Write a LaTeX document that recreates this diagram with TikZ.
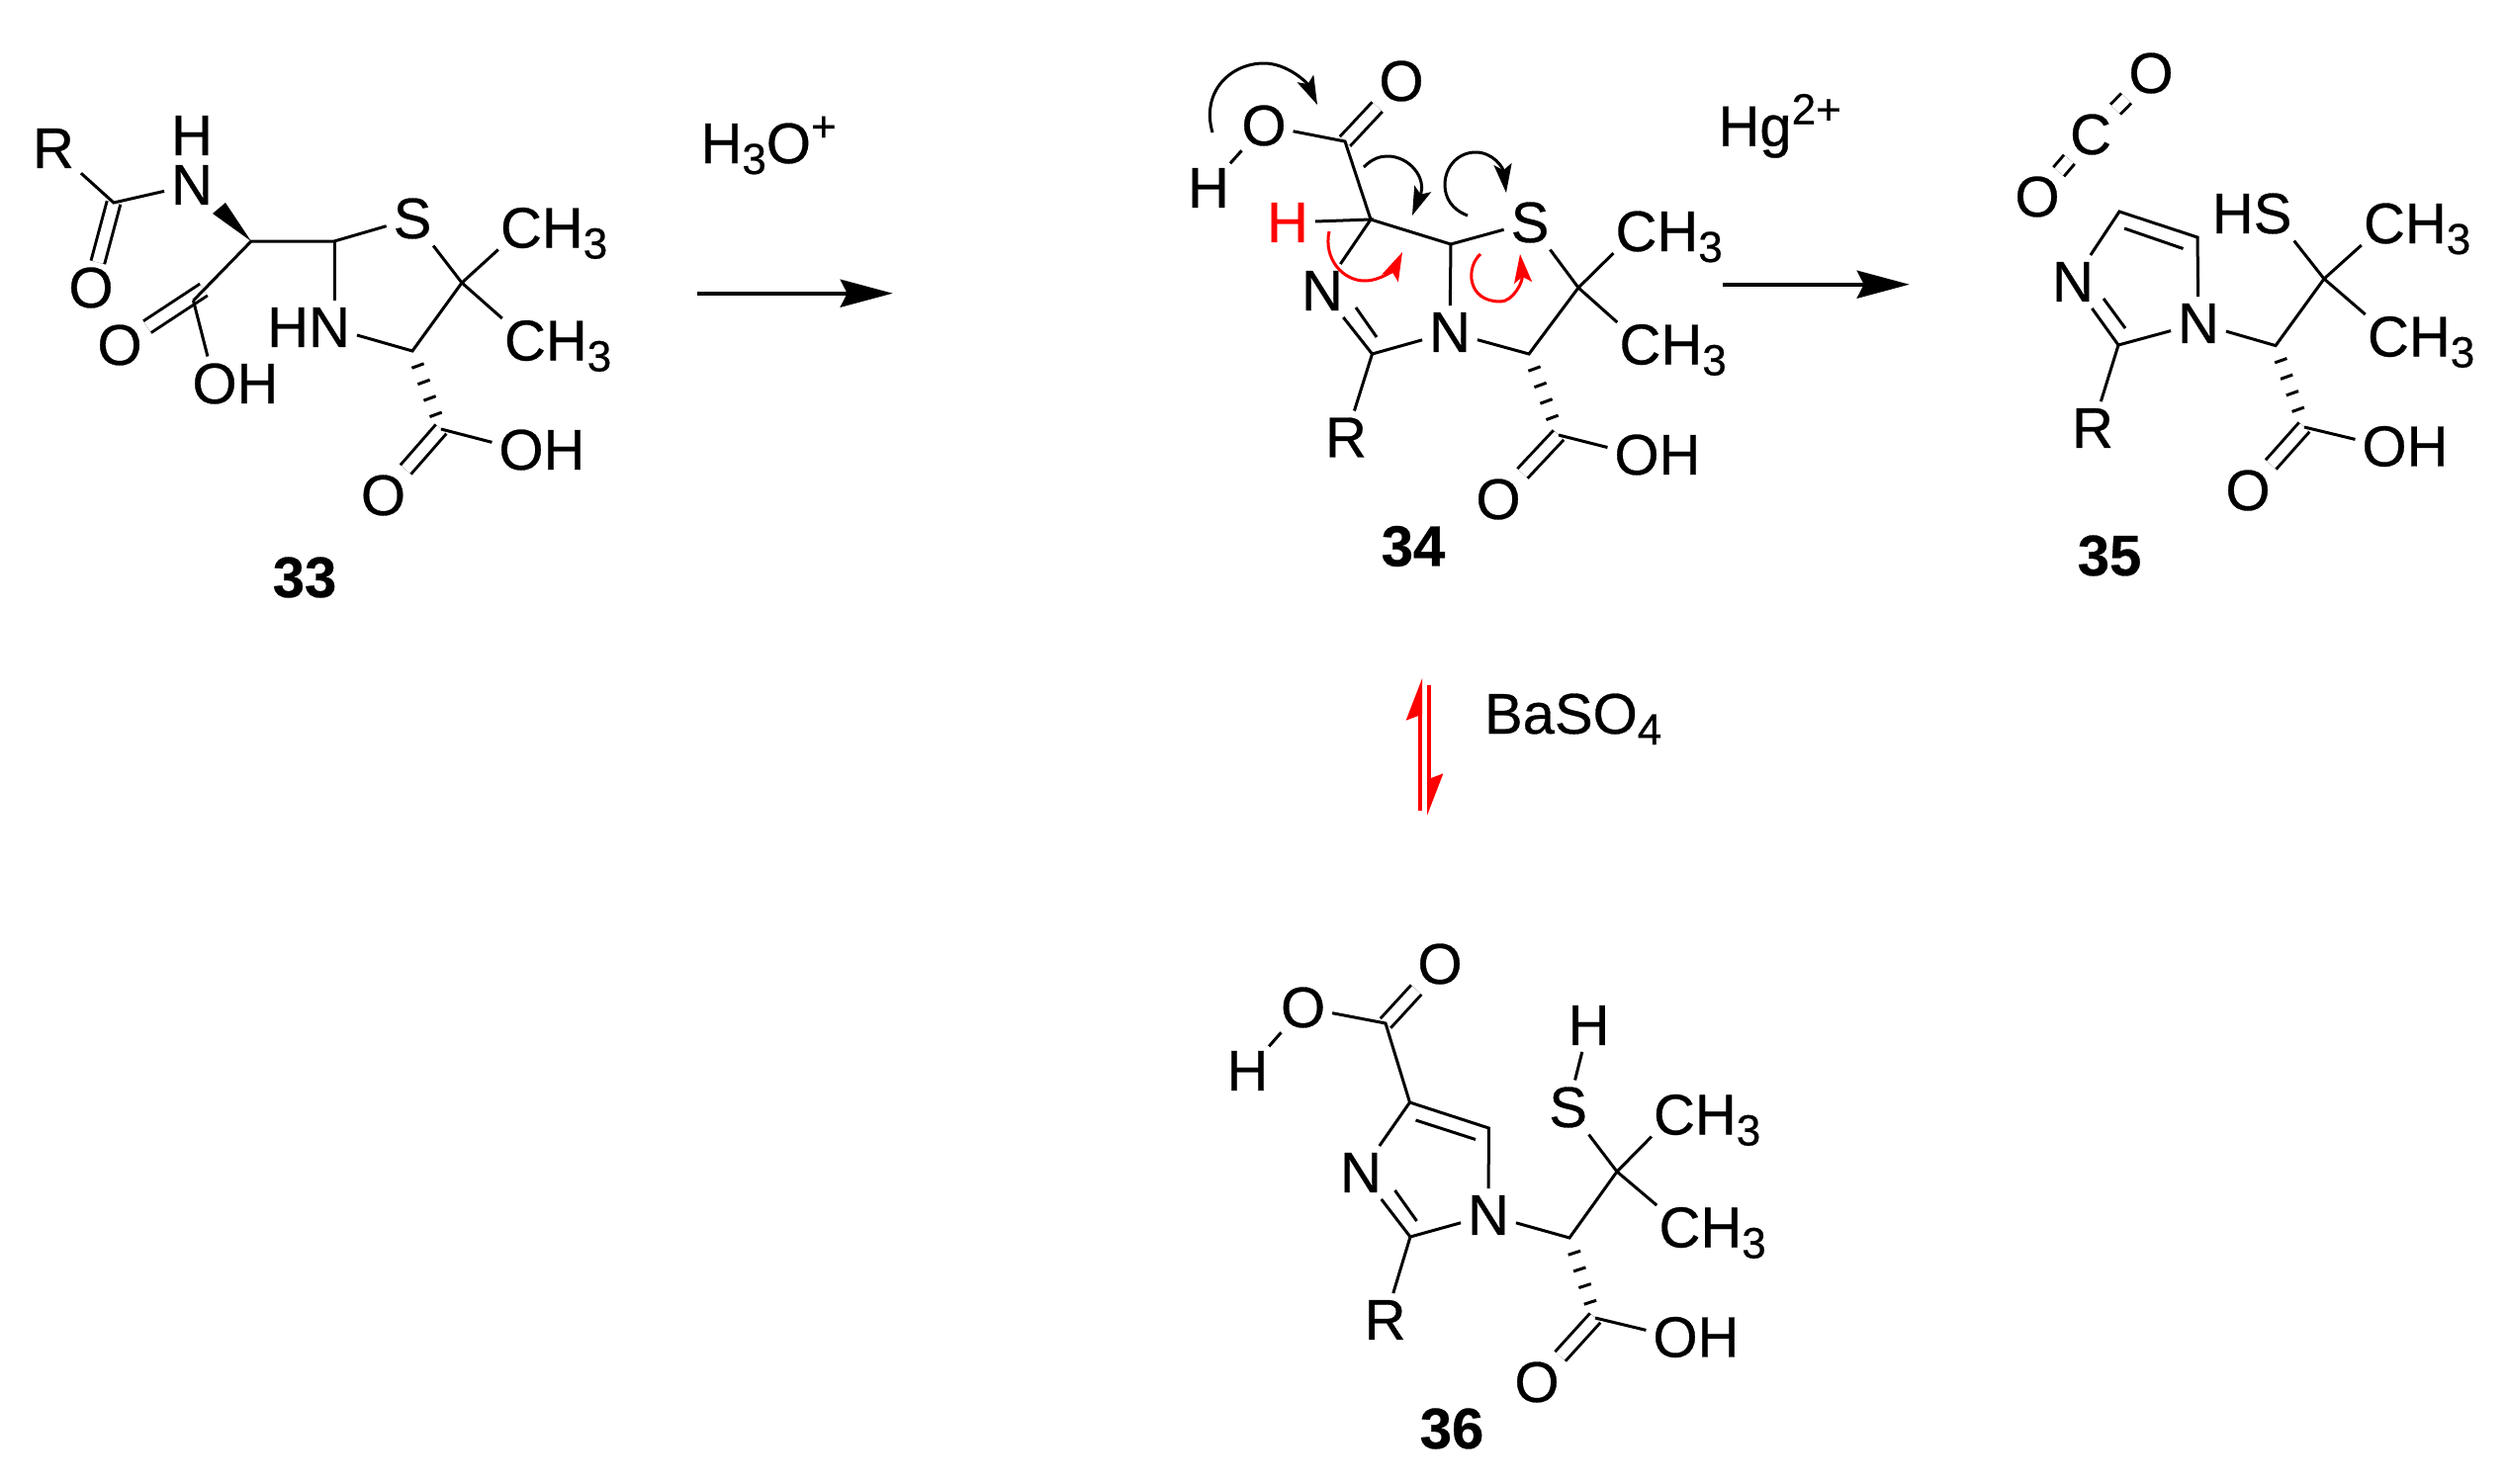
\documentclass[tikz,border=0pt]{standalone}
\usepackage{fontspec}
\setmainfont[RawFeature={embolden=0.5}]{Liberation Sans}
\usetikzlibrary{positioning,arrows.meta}
\newcommand{\chemfont}{\fontsize{58pt}{60pt}\selectfont}
\newcommand{\sbs}[1]{\raisebox{-11pt}{\fontsize{44pt}{44pt}\selectfont #1}}
\newcommand{\sps}[1]{\raisebox{22pt}{\fontsize{44pt}{44pt}\selectfont #1}}
\tikzset{
  atom/.style={font=\chemfont, inner sep=7pt, outer sep=0pt},
  lab/.style={font=\chemfont, inner sep=0pt, outer sep=0pt, anchor=base west},
  cpd/.style={font=\chemfont\bfseries, inner sep=0pt, outer sep=0pt},
  dbl/.style={double, double distance=11pt, shorten >=-2pt},
  lng/.style={shorten <=-3pt, shorten >=-3pt},
  hashbond/.style={line width=13pt, dash pattern=on 3pt off 14.5pt, dash phase=3pt, shorten >=12pt},
  rxn/.style={line width=4pt, -{Stealth[length=53pt,width=28pt,inset=7pt]}},
  curly/.style={-{Stealth[length=29pt,width=18pt,inset=6pt]}},
  eqm/.style={red, line width=4pt, -{Stealth[left,length=37pt,width=28pt,inset=5pt]}}
}

\begin{document}
\begin{tikzpicture}[x=1pt, y=-1pt, line width=3pt]
  \useasboundingbox (0,0) rectangle (2536,1500);

  % compound 33
  \node[atom] (R33) at (54,150) {R};
  \node[atom, inner sep=0pt] (H33a) at (194,137) {H};
  \node[atom] (N33a) at (194,187) {N};
  \node[atom] (O33a) at (92,291) {O};
  \node[atom] (O33b) at (121,349) {O};
  \node[atom] (O33c) at (217,388) {O};
  \node[atom, base right=-14pt of O33c] (H33c) {H};
  \node[atom] (S33) at (417,221) {S};
  \node[atom] (N33b) at (333,331) {N};
  \node[atom, base left=-14pt of N33b] (H33b) {H};
  \node[lab] (Me33a) at (506,250.5) {CH\sbs{3}};
  \node[lab] (Me33b) at (510,364.5) {CH\sbs{3}};
  \node[atom] (O33d) at (387.5,501) {O};
  \node[atom] (O33e) at (527,455) {O};
  \node[atom, base right=-14pt of O33e] (H33e) {H};
  \node[cpd] (L33) at (308,584) {33};
  \coordinate (C33a) at (115,205);
  \coordinate (C33b) at (254,244);
  \coordinate (C33c) at (338,244);
  \coordinate (C33d) at (195.5,304);
  \coordinate (C33e) at (467,286);
  \coordinate (C33f) at (417,355);
  \coordinate (C33g) at (446,434);
  \coordinate (D33) at (206,293);
  \coordinate (W33a) at (228,205);
  \coordinate (W33b) at (215,216);
  \draw[dbl] (C33a) -- (O33a);
  \draw[dbl] (D33) -- (O33b);
  \draw[dbl] (C33g) -- (O33d);
  \draw (R33) -- (C33a) -- (N33a);
  \fill (C33b) -- (W33a) -- (W33b) -- cycle;
  \draw (C33d) -- (C33b) -- (C33c) -- (S33);
  \draw (C33d) -- (O33c);
  \draw (C33c) -- (N33b.north -| C33c);
  \draw (N33b) -- (C33f) -- (C33e) -- (S33);
  \draw[shorten >=3pt] (C33e) -- (Me33a.base west);
  \draw[shorten >=3pt] (C33e) -- (Me33b.north west);
  \draw[hashbond] (C33f) -- (C33g);
  \draw (C33g) -- (O33e);

  % compound 34
  \node[atom] (O34a) at (1417,82) {O};
  \node[atom] (O34b) at (1278,127) {O};
  \node[atom] (H34a) at (1222,190) {H};
  \node[atom, text=red] (H34b) at (1302,225) {H};
  \node[atom] (N34a) at (1337,294) {N};
  \node[atom] (N34b) at (1466,336) {N};
  \node[atom] (R34) at (1361,442.5) {R};
  \node[atom] (S34) at (1547,225) {S};
  \node[lab] (Me34a) at (1633.5,254) {CH\sbs{3}};
  \node[lab] (Me34b) at (1637.5,368.5) {CH\sbs{3}};
  \node[atom] (O34c) at (1515,505) {O};
  \node[atom] (O34d) at (1655,460) {O};
  \node[atom, base right=-14pt of O34d] (H34d) {H};
  \node[cpd] (L34) at (1429,552.5) {34};
  \coordinate (C34a) at (1360,143);
  \coordinate (C34b) at (1386,222);
  \coordinate (C34c) at (1467,247);
  \coordinate (C34d) at (1387.5,358);
  \coordinate (C34e) at (1596,291);
  \coordinate (C34f) at (1546,358);
  \coordinate (C34g) at (1576,440);
  \coordinate (I34a) at (1392,341);
  \coordinate (I34b) at (1371,311);
  \draw[dbl] (C34a) -- (O34a);
  \draw[dbl] (C34g) -- (O34c);
  \draw[lng] (H34a) -- (O34b);
  \draw (O34b) -- (C34a) -- (C34b) -- (C34c) -- (S34);
  \draw (H34b) -- (C34b) -- (N34a) -- (C34d) -- (N34b) -- (C34c);
  \draw (I34a) -- (I34b);
  \draw (C34d) -- (R34);
  \draw (N34b) -- (C34f) -- (C34e) -- (S34);
  \draw[shorten >=3pt] (C34e) -- (Me34a.base west);
  \draw[shorten >=3pt] (C34e) -- (Me34b.north west);
  \draw[hashbond] (C34f) -- (C34g);
  \draw (C34g) -- (O34d);

  % electron pushing on 34
  \coordinate (CvA) at (1226,134);
  \coordinate (CvB) at (1332,106);
  \coordinate (CvC) at (1379,169);
  \coordinate (CvD) at (1428,218);
  \coordinate (CvE) at (1484,218);
  \coordinate (CvF) at (1523,195);
  \coordinate (CvG) at (1344,234);
  \coordinate (CvH) at (1418,255);
  \coordinate (CvI) at (1497,257);
  \coordinate (CvJ) at (1537,257);
  \draw[curly] (CvA) .. controls (1214,92) and (1245,64) .. (1278,64) .. controls (1302,64) and (1322,84) .. (CvB);
  \draw[curly] (CvC) .. controls (1388,160) and (1396,158) .. (1403,158) .. controls (1425,158) and (1443,180) .. (CvD);
  \draw[curly] (CvE) .. controls (1468,212) and (1461,200) .. (1461,187) .. controls (1461,168) and (1475,154) .. (1492,154) .. controls (1510,154) and (1520,170) .. (CvF);
  \draw[curly, red] (CvG) .. controls (1338,262) and (1358,284) .. (1380,284) .. controls (1396,284) and (1410,272) .. (CvH);
  \draw[curly, red] (CvI) .. controls (1482,270) and (1483,305) .. (1517,305) .. controls (1530,305) and (1540,285) .. (CvJ);

  % compound 35
  \node[atom] (O35a) at (2175,74) {O};
  \node[atom] (C35a) at (2114,136) {C};
  \node[atom] (O35b) at (2060,199) {O};
  \node[atom] (N35a) at (2096,285) {N};
  \node[atom] (N35b) at (2223,327) {N};
  \node[atom] (R35) at (2116,433) {R};
  \node[atom] (S35) at (2298,216) {S};
  \node[atom, base left=-14pt of S35] (H35) {H};
  \node[lab] (Me35a) at (2390,246) {CH\sbs{3}};
  \node[lab] (Me35b) at (2394,360.5) {CH\sbs{3}};
  \node[atom] (O35c) at (2273,496) {O};
  \node[atom] (O35d) at (2411,451.5) {O};
  \node[atom, base right=-14pt of O35d] (H35d) {H};
  \node[cpd] (L35) at (2133,562) {35};
  \coordinate (C35b) at (2142,349);
  \coordinate (C35c) at (2143,214);
  \coordinate (C35d) at (2222,240);
  \coordinate (C35e) at (2301,349.6);
  \coordinate (C35f) at (2350,282);
  \coordinate (C35g) at (2330,432);
  \coordinate (I35a) at (2148,231);
  \coordinate (I35b) at (2207.5,251.5);
  \coordinate (I35c) at (2127,302);
  \coordinate (I35d) at (2149,332);
  \draw[dbl, lng] (C35a) -- (O35a);
  \draw[dbl, lng] (C35a) -- (O35b);
  \draw[dbl] (C35g) -- (O35c);
  \draw (N35a) -- (C35c) -- (C35d) -- (N35b) -- (C35b) -- (N35a);
  \draw (I35a) -- (I35b);
  \draw (I35c) -- (I35d);
  \draw (C35b) -- (R35);
  \draw (N35b) -- (C35e) -- (C35f) -- (S35);
  \draw[shorten >=3pt] (C35f) -- (Me35a.base west);
  \draw[shorten >=3pt] (C35f) -- (Me35b.north west);
  \draw[hashbond] (C35e) -- (C35g);
  \draw (C35g) -- (O35d);

  % compound 36
  \node[atom] (O36a) at (1456,975) {O};
  \node[atom] (O36b) at (1317.6,1019) {O};
  \node[atom] (H36a) at (1261.5,1083) {H};
  \node[atom] (N36a) at (1376,1186) {N};
  \node[atom] (N36b) at (1505,1229) {N};
  \node[atom] (R36) at (1400.6,1335) {R};
  \node[atom] (S36) at (1585.6,1120) {S};
  \node[atom] (H36b) at (1606.6,1037) {H};
  \node[lab] (Me36a) at (1672,1147.5) {CH\sbs{3}};
  \node[lab] (Me36b) at (1677.5,1261.5) {CH\sbs{3}};
  \node[atom] (O36c) at (1554,1398) {O};
  \node[atom] (O36d) at (1694,1352.5) {O};
  \node[atom, base right=-14pt of O36d] (H36d) {H};
  \node[cpd] (L36) at (1468,1445) {36};
  \coordinate (C36a) at (1401,1035);
  \coordinate (C36b) at (1425.5,1115);
  \coordinate (C36c) at (1505.4,1141);
  \coordinate (C36d) at (1426,1251);
  \coordinate (C36e) at (1587,1252);
  \coordinate (C36f) at (1635,1185);
  \coordinate (C36g) at (1613,1333);
  \coordinate (I36a) at (1431.5,1133);
  \coordinate (I36b) at (1492,1152.5);
  \coordinate (I36c) at (1410.5,1204);
  \coordinate (I36d) at (1432.6,1235);
  \draw[dbl] (C36a) -- (O36a);
  \draw[dbl] (C36g) -- (O36c);
  \draw[lng] (H36a) -- (O36b);
  \draw (O36b) -- (C36a) -- (C36b) -- (C36c) -- (N36b) -- (C36d) -- (N36a) -- (C36b);
  \draw (I36a) -- (I36b);
  \draw (I36c) -- (I36d);
  \draw (C36d) -- (R36);
  \draw (N36b) -- (C36e) -- (C36f) -- (S36) -- (H36b);
  \draw[shorten >=3pt] (C36f) -- (Me36a.base west);
  \draw[shorten >=3pt] (C36f) -- (Me36b.north west);
  \draw[hashbond] (C36e) -- (C36g);
  \draw (C36g) -- (O36d);

  % reaction arrows
  \node[lab] (Acid) at (708.5,165) {H\sbs{3}O\sps{+}};
  \node[lab] (Hg) at (1737.5,147.7) {Hg\sps{2+}};
  \node[lab] (Ba) at (1501,742) {BaSO\sbs{4}};
  \coordinate (RxA) at (705,296.7);
  \coordinate (RxB) at (902.7,296.7);
  \coordinate (RxC) at (1741.7,287.7);
  \coordinate (RxD) at (1930.7,287.7);
  \coordinate (EqA) at (1436,820);
  \coordinate (EqB) at (1436,686);
  \coordinate (EqC) at (1445,693);
  \coordinate (EqD) at (1445,825);
  \draw[rxn] (RxA) -- (RxB);
  \draw[rxn] (RxC) -- (RxD);
  \draw[eqm] (EqA) -- (EqB);
  \draw[eqm] (EqC) -- (EqD);
\end{tikzpicture}
\end{document}
